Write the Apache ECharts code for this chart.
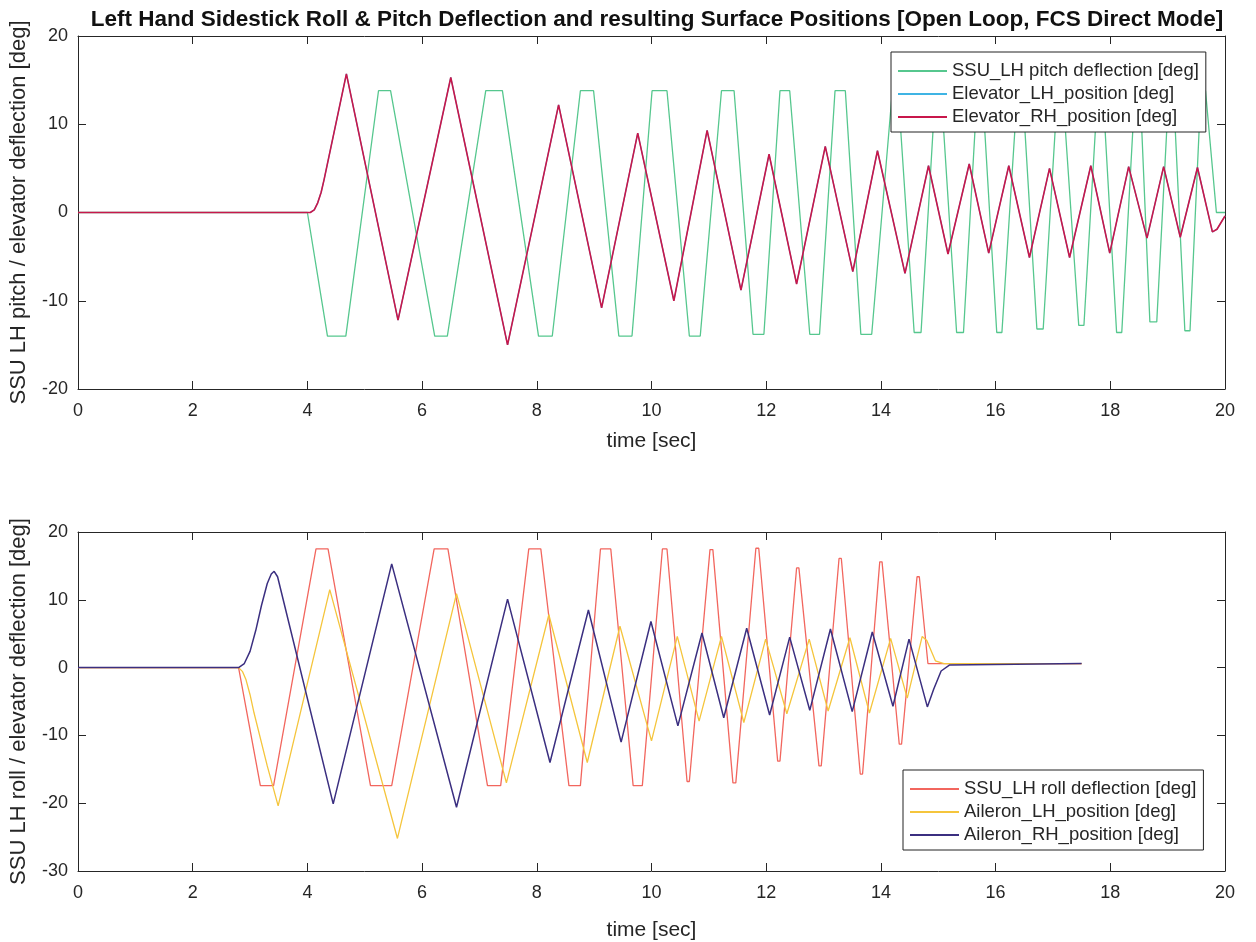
<!DOCTYPE html>
<html>
<head>
<meta charset="utf-8">
<script src="https://cdn.jsdelivr.net/npm/echarts@6/dist/echarts.min.js"></script>
<style>
  html, body { margin: 0; padding: 0; background: #fff; }
  #chart { width: 1256px; height: 942px; }
</style>
</head>
<body>
<div id="chart"></div>
<script>
// values, [time sec, deg]
const pitchStick = [
  [0, 0], [4.00, 0], [4.35, -14.0], [4.67, -14.0], [5.24, 13.8], [5.45, 13.8],
  [6.22, -14.0], [6.44, -14.0], [7.11, 13.8], [7.40, 13.8], [8.03, -14.0], [8.27, -14.0],
  [8.76, 13.8], [8.99, 13.8], [9.43, -14.0], [9.66, -14.0], [10.01, 13.8], [10.27, 13.8],
  [10.66, -14.0], [10.85, -14.0], [11.22, 13.8], [11.44, 13.8], [11.77, -13.8], [11.96, -13.8],
  [12.24, 13.8], [12.41, 13.8], [12.76, -13.8], [12.93, -13.8], [13.20, 13.8], [13.38, 13.8],
  [13.65, -13.8], [13.84, -13.8], [14.20, 13.8], [14.30, 13.8], [14.58, -13.6], [14.70, -13.6],
  [14.95, 13.8], [15.05, 13.8], [15.32, -13.6], [15.44, -13.6], [15.68, 13.8], [15.77, 13.8],
  [16.02, -13.6], [16.11, -13.6], [16.38, 13.8], [16.47, 13.8], [16.72, -13.2], [16.83, -13.2],
  [17.08, 13.8], [17.17, 13.8], [17.45, -12.8], [17.54, -12.8], [17.78, 13.8], [17.87, 13.8],
  [18.11, -13.6], [18.20, -13.6], [18.43, 13.8], [18.52, 13.8], [18.69, -12.4], [18.81, -12.4],
  [19.02, 13.8], [19.10, 13.8], [19.30, -13.4], [19.39, -13.4], [19.58, 13.8], [19.66, 13.8],
  [19.85, 0], [20, 0]
];

const elevatorRH = [
  [0, 0], [4.05, 0], [4.12, 0.3], [4.18, 1.1], [4.24, 2.3], [4.29, 3.7], [4.68, 15.7],
  [5.58, -12.2], [6.50, 15.3], [7.49, -15.0], [8.38, 12.2], [9.13, -10.8], [9.76, 9.0],
  [10.39, -10.0], [10.97, 9.3], [11.56, -8.8], [12.05, 6.6], [12.53, -8.1], [13.03, 7.5],
  [13.51, -6.7], [13.94, 7.0], [14.42, -6.9], [14.83, 5.3], [15.17, -4.7], [15.54, 5.5],
  [15.88, -4.6], [16.23, 5.3], [16.59, -5.1], [16.94, 5.0], [17.29, -5.1], [17.66, 5.3],
  [17.99, -4.6], [18.32, 5.2], [18.64, -2.9], [18.93, 5.2], [19.22, -2.8], [19.52, 5.1],
  [19.78, -2.2], [19.86, -1.9], [20, -0.4]
];
// LH trace lies under the RH trace over the whole run
const elevatorLH = elevatorRH;

const rollStick = [
  [0, 0], [2.80, 0], [3.18, -17.4], [3.41, -17.4], [4.15, 17.5], [4.36, 17.5],
  [5.10, -17.4], [5.47, -17.4], [6.21, 17.5], [6.45, 17.5], [7.14, -17.4], [7.37, -17.4],
  [7.86, 17.5], [8.07, 17.5], [8.56, -17.4], [8.76, -17.4], [9.11, 17.5], [9.29, 17.5],
  [9.68, -17.4], [9.84, -17.4], [10.19, 17.5], [10.27, 17.5], [10.62, -16.8], [10.66, -16.8],
  [11.02, 17.4], [11.07, 17.4], [11.42, -17.0], [11.47, -17.0], [11.82, 17.6], [11.87, 17.6],
  [12.20, -13.8], [12.24, -13.8], [12.53, 14.7], [12.57, 14.7], [12.92, -14.5], [12.96, -14.5],
  [13.27, 16.1], [13.31, 16.1], [13.64, -15.7], [13.68, -15.7], [13.98, 15.6], [14.02, 15.6],
  [14.32, -11.3], [14.36, -11.3], [14.63, 13.4], [14.67, 13.4], [14.82, 0.6], [17.5, 0.6]
];

const aileronLH = [
  [0, 0], [2.80, 0], [2.87, -0.6], [2.93, -1.8], [3.00, -4.0], [3.07, -6.7], [3.30, -14.5],
  [3.49, -20.4], [4.39, 11.5], [5.57, -25.2], [6.60, 10.9], [7.47, -17.0], [8.21, 7.8],
  [8.88, -14.0], [9.45, 6.1], [10.00, -10.8], [10.45, 4.6], [10.83, -7.9], [11.22, 4.6],
  [11.61, -8.1], [11.99, 4.2], [12.36, -6.8], [12.75, 4.2], [13.08, -6.4], [13.46, 4.4],
  [13.80, -6.7], [14.17, 4.3], [14.46, -4.5], [14.72, 4.6], [14.80, 4.0], [14.95, 1.0],
  [15.10, 0.6], [17.5, 0.6]
];

const aileronRH = [
  [0, 0], [2.80, 0], [2.90, 0.6], [3.00, 2.4], [3.10, 5.5], [3.20, 9.2], [3.30, 12.4],
  [3.37, 13.8], [3.42, 14.2], [3.48, 13.4], [4.45, -20.1], [5.47, 15.3], [6.60, -20.6],
  [7.49, 10.1], [8.23, -14.0], [8.90, 8.5], [9.47, -11.0], [9.99, 6.8], [10.46, -8.6],
  [10.88, 5.1], [11.26, -7.4], [11.66, 5.8], [12.06, -7.0], [12.41, 4.5], [12.76, -6.3],
  [13.12, 5.7], [13.50, -6.5], [13.85, 5.25], [14.21, -5.7], [14.49, 4.2], [14.81, -5.8],
  [14.92, -3.2], [15.05, -0.5], [15.20, 0.4], [17.5, 0.6]
];

const topNames = ['SSU_LH pitch deflection [deg]', 'Elevator_LH_position [deg]', 'Elevator_RH_position [deg]'];
const bottomNames = ['SSU_LH roll deflection [deg]', 'Aileron_LH_position [deg]', 'Aileron_RH_position [deg]'];
const titleText = 'Left Hand Sidestick Roll & Pitch Deflection and resulting Surface Positions [Open Loop, FCS Direct Mode]';

const FONT = '"Liberation Sans", Arial, Helvetica, sans-serif';
const INK = '#262626';

function xAxisPair(gridIndex, nameGap) {
  const common = {
    gridIndex,
    type: 'value',
    min: 0,
    max: 20,
    interval: 2,
    splitLine: { show: false },
    axisLine: { onZero: false, lineStyle: { color: INK, width: 1 } },
    axisTick: { inside: true, length: 8, lineStyle: { color: INK } },
  };
  return [
    {
      ...common,
      position: 'bottom',
      name: 'time [sec]',
      nameLocation: 'middle',
      nameGap,
      nameTextStyle: { color: INK, fontSize: 21, fontFamily: FONT },
      axisLabel: { color: INK, fontSize: 18, fontFamily: FONT, margin: 13 },
    },
    { ...common, position: 'top', axisLabel: { show: false } },
  ];
}

function yAxisPair(gridIndex, min, name) {
  const common = {
    gridIndex,
    type: 'value',
    min,
    max: 20,
    interval: 10,
    splitLine: { show: false },
    axisLine: { onZero: false, lineStyle: { color: INK, width: 1 } },
    axisTick: { inside: true, length: 8, lineStyle: { color: INK } },
  };
  return [
    {
      ...common,
      position: 'left',
      name,
      nameLocation: 'middle',
      nameGap: 48,
      nameTextStyle: { color: INK, fontSize: 22, fontFamily: FONT },
      axisLabel: { color: INK, fontSize: 18, fontFamily: FONT, margin: 10 },
    },
    { ...common, position: 'right', axisLabel: { show: false } },
  ];
}

function legendBox(names, left, top) {
  return {
    orient: 'vertical',
    left,
    top,
    data: names,
    icon: 'rect',
    backgroundColor: '#fff',
    borderColor: '#222',
    borderWidth: 1,
    borderRadius: 0,
    padding: [9, 7, 5, 7],
    itemWidth: 49,
    itemHeight: 2,
    itemGap: 3,
    textStyle: { color: INK, fontSize: 18.5, fontFamily: FONT, lineHeight: 20 },
  };
}

function line(name, data, color, width, xAxisIndex, yAxisIndex) {
  return {
    name,
    type: 'line',
    xAxisIndex,
    yAxisIndex,
    data,
    symbol: 'none',
    animation: false,
    lineStyle: { color, width },
    itemStyle: { color },
  };
}

const chart = echarts.init(document.getElementById('chart'), null, { renderer: 'canvas' });
chart.setOption({
  backgroundColor: '#fff',
  animation: false,
  title: {
    text: titleText,
    left: 652,
    textAlign: 'center',
    top: 3,
    textStyle: { color: '#111', fontSize: 22.5, fontWeight: 'bold', fontFamily: FONT },
  },
  grid: [
    { left: 77, top: 36, width: 1148, height: 353 },
    { left: 77, top: 532, width: 1148, height: 339 },
  ],
  xAxis: [...xAxisPair(0, 42), ...xAxisPair(1, 49)],
  yAxis: [
    ...yAxisPair(0, -20, 'SSU LH pitch / elevator deflection [deg]'),
    ...yAxisPair(1, -30, 'SSU LH roll / elevator deflection [deg]'),
  ],
  legend: [legendBox(topNames, 891, 52), legendBox(bottomNames, 903, 770)],
  series: [
    line(topNames[0], pitchStick, '#56c78e', 1.3, 0, 0),
    line(topNames[1], elevatorLH, '#3fb4e4', 1.2, 0, 0),
    line(topNames[2], elevatorRH, '#c8174b', 1.6, 0, 0),
    line(bottomNames[0], rollStick, '#f2665e', 1.3, 2, 2),
    line(bottomNames[1], aileronLH, '#f5c53c', 1.3, 2, 2),
    line(bottomNames[2], aileronRH, '#3b2f80', 1.5, 2, 2),
  ],
});
</script>
</body>
</html>
